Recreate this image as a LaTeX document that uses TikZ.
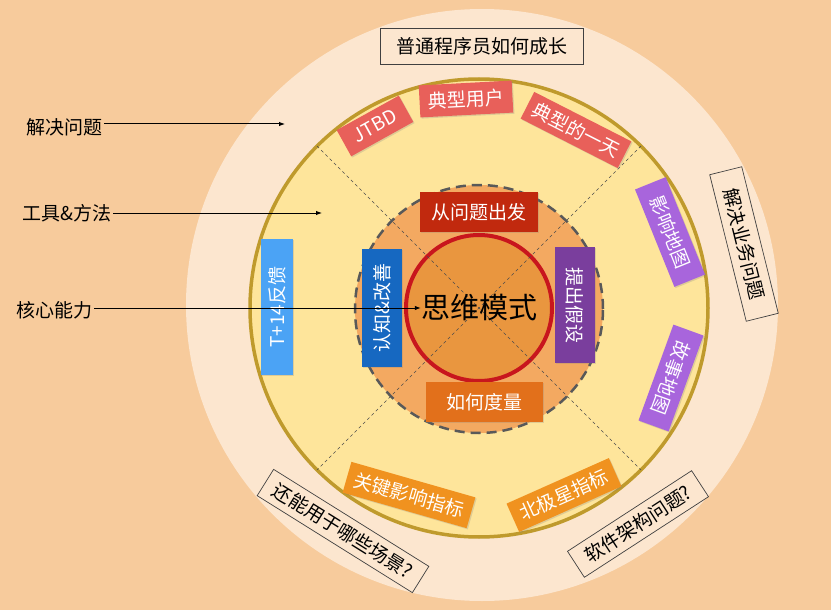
\documentclass[tikz,border=0pt]{standalone}
\usepackage{fontspec}
\setmainfont{Noto Sans CJK SC}
\usetikzlibrary{arrows.meta,shadows}
\definecolor{bgc}{HTML}{F7CB9C}
\definecolor{paleC}{HTML}{FCE6CF}
\definecolor{yellowC}{HTML}{FEE59B}
\definecolor{goldC}{HTML}{BF9A2C}
\definecolor{midC}{HTML}{F3A961}
\definecolor{innerC}{HTML}{E9963F}
\definecolor{redRing}{HTML}{C8161D}
\definecolor{cDarkRed}{HTML}{C1290E}
\definecolor{cPurple}{HTML}{7A3E9D}
\definecolor{cOrange}{HTML}{E2701B}
\definecolor{cBlue}{HTML}{1668C1}
\definecolor{cLightBlue}{HTML}{4BA3F5}
\definecolor{cSalmon}{HTML}{E8605A}
\definecolor{cViolet}{HTML}{A865DC}
\definecolor{cAmber}{HTML}{F0921F}
\begin{document}
\begin{tikzpicture}[x=1pt,y=-1pt,
  box/.style={text=white, font=\fontsize{19}{19}\selectfont, inner sep=0pt, align=center,
    drop shadow={opacity=0.25, shadow xshift=1.2pt, shadow yshift=-1.2pt}},
  outbox/.style={draw=black!75, line width=0.7pt, fill=paleC, text=black,
    font=\fontsize{19}{19}\selectfont, inner sep=0pt},
  lab/.style={font=\fontsize{19}{19}\selectfont, text=black, inner sep=2pt},
  arr/.style={line width=1pt, -{Latex[length=6pt,width=4.5pt]}},
  diag/.style={black!70, line width=0.7pt, dash pattern=on 3pt off 3pt}]
\useasboundingbox (0,0) rectangle (831,610);
\fill[bgc] (0,0) rectangle (831,610);
\fill[paleC] (482,305) circle (296pt);
\fill[yellowC, draw=goldC, line width=3.5pt] (479,308) circle (229pt);
\fill[midC] (479,309) circle (124pt);
\draw[black!65, line width=2.5pt, dash pattern=on 10pt off 6pt] (479,309) circle (124pt);
\fill[innerC, draw=redRing, line width=4pt] (479,308) circle (73pt);
\draw[diag] (317,146) -- (641,470);
\draw[diag] (641,146) -- (317,470);

% inner boxes
\node[box, fill=cDarkRed, minimum width=118pt, minimum height=40pt] (q) at (479,212) {从问题出发};
\node[box, fill=cPurple, minimum width=116pt, minimum height=40pt, rotate=-90] (h) at (575,305) {提出假设};
\node[box, fill=cOrange, minimum width=117pt, minimum height=40pt] (m) at (484,402) {如何度量};
\node[box, fill=cBlue, minimum width=118pt, minimum height=40pt, rotate=90] (r) at (382,308) {认知\&改善};
\node[font=\fontsize{29}{29}\selectfont, inner sep=0pt] (core) at (479,308) {思维模式};

% ring boxes
\node[box, fill=cLightBlue, minimum width=136pt, minimum height=32pt, rotate=90] (t) at (277,307) {T+14反馈};
\node[box, fill=cSalmon, minimum width=71pt, minimum height=30pt, rotate=29] (j) at (375,126) {JTBD};
\node[box, fill=cSalmon, minimum width=93pt, minimum height=32pt, rotate=3] (u) at (466,99) {典型用户};
\node[box, fill=cSalmon, minimum width=109pt, minimum height=30pt, rotate=-27] (d) at (576,130) {典型的一天};
\node[box, fill=cViolet, minimum width=105pt, minimum height=33pt, rotate=-68] (im) at (670,232) {影响地图};
\node[box, fill=cViolet, minimum width=102pt, minimum height=32pt, rotate=-110] (sm) at (671,378) {故事地图};
\node[box, fill=cAmber, minimum width=129pt, minimum height=32pt, rotate=-16] (k) at (409,495) {关键影响指标};
\node[box, fill=cAmber, minimum width=112pt, minimum height=31pt, rotate=24] (n) at (564,495) {北极星指标};

% outer boxes
\node[outbox, minimum width=203pt, minimum height=36pt] (title) at (482,46) {普通程序员如何成长};
\node[outbox, minimum width=151pt, minimum height=33pt, rotate=-76] (biz) at (744,244) {解决业务问题};
\node[outbox, minimum width=183pt, minimum height=31pt, rotate=-32] (scene) at (343,531) {还能用于哪些场景?};
\node[outbox, minimum width=148pt, minimum height=31pt, rotate=33] (arch) at (638,524) {软件架构问题?};

% left labels
\node[lab, anchor=west] (l1) at (24,127) {解决问题};
\node[lab, anchor=west] (l2) at (20,213) {工具\&方法};
\node[lab, anchor=west] (l3) at (14,310) {核心能力};
\coordinate (e1) at (285,124);
\coordinate (e2) at (322,213);
\draw[arr] (l1.east |- e1) -- (e1);
\draw[arr] (l2.east |- e2) -- (e2);
\draw[arr] (l3.east |- core.west) -- (core.west);
\end{tikzpicture}
\end{document}
